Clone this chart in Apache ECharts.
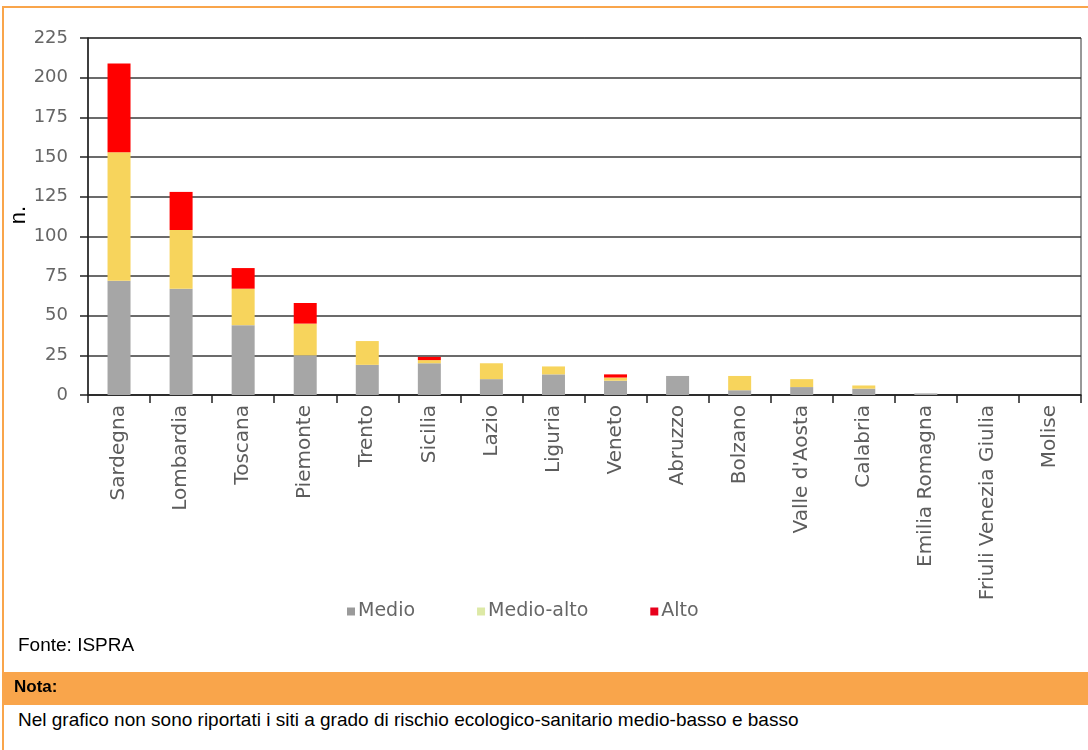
<!DOCTYPE html>
<html>
<head>
<meta charset="utf-8">
<script src="https://cdn.jsdelivr.net/npm/echarts@6/dist/echarts.min.js"></script>
<style>
  html, body { margin: 0; padding: 0; background: #ffffff; }
  #page { position: relative; width: 1088px; height: 750px; overflow: hidden; background: #fff; }
  #chart { position: absolute; left: 0; top: 0; width: 1088px; height: 660px; }
  .oline { position: absolute; background: #F9A54B; }
  .txt { position: absolute; font-family: "Liberation Sans", Arial, sans-serif; color: #000; white-space: nowrap; }
</style>
</head>
<body>
<div id="page">
  <div id="chart"></div>
  <div class="oline" style="left:2px; top:6px; width:1086px; height:2px;"></div>
  <div class="oline" style="left:2px; top:6px; width:2px; height:744px;"></div>
  <div class="oline" style="left:2px; top:672px; width:1086px; height:33px;"></div>
  <div class="txt" style="left:18px; top:634px; font-size:19px;">Fonte: ISPRA</div>
  <div class="txt" style="left:14px; top:677px; font-size:17px; font-weight:bold;">Nota:</div>
  <div class="txt" style="left:18px; top:709px; font-size:19px;">Nel grafico non sono riportati i siti a grado di rischio ecologico-sanitario medio-basso e basso</div>
</div>
<script>
const categories = ["Sardegna", "Lombardia", "Toscana", "Piemonte", "Trento", "Sicilia", "Lazio", "Liguria", "Veneto", "Abruzzo", "Bolzano", "Valle d'Aosta", "Calabria", "Emilia Romagna", "Friuli Venezia Giulia", "Molise"];
const seriesNames = ["Medio", "Medio-alto", "Alto"];
const medio     = [72, 67, 44, 25, 19, 20, 10, 13, 9, 12, 3, 5, 4, 1, 0, 0];
const medioAlto = [81, 37, 23, 20, 15, 2, 10, 5, 2, 0, 9, 5, 2, 0, 0, 0];
const alto      = [56, 24, 13, 13, 0, 2, 0, 0, 2, 0, 0, 0, 0, 0, 0, 0];
const yTicks = [0, 25, 50, 75, 100, 125, 150, 175, 200, 225];
const yAxisName = 'n.';
</script>
<script>
const chart = echarts.init(document.getElementById('chart'));
const barColors = ['#a6a6a6', '#f7d45c', '#ff0000'];
const legendColors = ['#9a9a9a', '#dde9a6', '#e8001c'];
const values = [medio, medioAlto, alto];
const lblFont = '"DejaVu Sans", sans-serif';
chart.setOption({
  animation: false,
  backgroundColor: '#ffffff',
  grid: { left: 88, right: 7, top: 38, bottom: 265, containLabel: false, outerBoundsMode: 'none', show: true, borderColor: '#333333', borderWidth: 1, backgroundColor: 'transparent' },
  graphic: [{
    type: 'text',
    x: 19, y: 215,
    rotation: Math.PI / 2,
    style: { text: yAxisName, fontFamily: '"Liberation Sans", Arial, sans-serif', fontSize: 22, fill: '#000000', align: 'center', verticalAlign: 'middle' }
  }],
  legend: {
    left: 342, top: 597,
    itemWidth: 8, itemHeight: 8, itemGap: 62,
    icon: 'rect',
    textStyle: { fontFamily: lblFont, fontSize: 19, color: '#666666', padding: [0, 0, 0, -2] },
    data: seriesNames.map((n, i) => ({ name: n, itemStyle: { color: legendColors[i] } }))
  },
  xAxis: {
    type: 'category',
    data: categories,
    axisLine: { lineStyle: { color: '#222222', width: 1.5 } },
    axisTick: { show: true, length: 8, alignWithLabel: false, lineStyle: { color: '#222222', width: 1.5 } },
    axisLabel: { rotate: 90, margin: 10, fontFamily: lblFont, fontSize: 20, color: '#5c5c5c', interval: 0 }
  },
  yAxis: {
    type: 'value',
    min: yTicks[0], max: yTicks[yTicks.length - 1], interval: 25,
    axisLine: { show: true, lineStyle: { color: '#222222', width: 1.5 } },
    axisTick: { show: true, length: 8, lineStyle: { color: '#222222', width: 1.5 } },
    axisLabel: { margin: 20, fontFamily: lblFont, fontSize: 18, color: '#666666' },
    splitLine: { show: true, lineStyle: { color: '#3a3a3a', width: 1.5 } }
  },
  series: seriesNames.map((n, i) => ({
    name: n,
    type: 'bar',
    stack: 'tot',
    barWidth: 23,
    data: values[i],
    itemStyle: { color: barColors[i] }
  }))
});
</script>
</body>
</html>
